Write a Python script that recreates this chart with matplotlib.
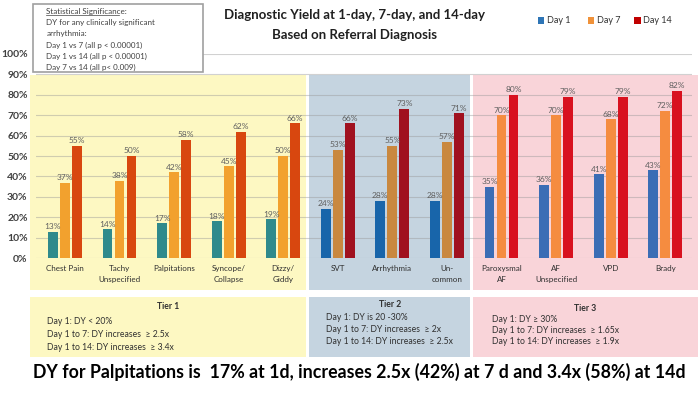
"""Diagnostic yield by referral diagnosis, grouped by tier."""

import matplotlib

matplotlib.use("Agg")
import matplotlib.pyplot as plt
import numpy as np
from matplotlib.patches import Rectangle
from matplotlib.transforms import blended_transform_factory

plt.rcParams["font.family"] = ["Lato", "DejaVu Sans"]

categories = [
    "Chest Pain", "Tachy\nUnspecified", "Palpitations", "Syncope/\nCollapse", "Dizzy/\nGiddy",
    "SVT", "Arrhythmia", "Un-\ncommon",
    "Paroxysmal\nAF", "AF\nUnspecified", "VPD", "Brady",
]
tier_of = [0, 0, 0, 0, 0, 1, 1, 1, 2, 2, 2, 2]
day1 = [13, 14, 17, 18, 19, 24, 28, 28, 35, 36, 41, 43]
day7 = [37, 38, 42, 45, 50, 53, 55, 57, 70, 70, 68, 72]
day14 = [55, 50, 58, 62, 66, 66, 73, 71, 80, 79, 79, 82]
series_names = ["Day 1", "Day 7", "Day 14"]

tier_names = ["Tier 1", "Tier 2", "Tier 3"]
tier_rules = [
    ["Day 1: DY < 20%", "Day 1 to 7: DY increases  \u2265 2.5x", "Day 1 to 14: DY increases  \u2265 3.4x"],
    ["Day 1: DY is 20 -30%", "Day 1 to 7: DY increases  \u2265 2x", "Day 1 to 14: DY increases  \u2265 2.5x"],
    ["Day 1: DY \u2265 30%", "Day 1 to 7: DY increases  \u2265 1.65x", "Day 1 to 14: DY increases  \u2265 1.9x"],
]
stats_lines = [
    "DY for any clinically significant",
    "arrhythmia:",
    "Day 1 vs 7 (all p < 0.00001)",
    "Day 1 vs 14 (all p < 0.00001)",
    "Day 7 vs 14 (all p< 0.009)",
]

# colours
panel_colors = ["#fdf8c2", "#c5d4e0", "#f9d4d9"]
bar_colors = [
    ["#2f8a8c", "#f2a12e", "#d8470f"],
    ["#1865aa", "#c9883f", "#a0111f"],
    ["#3b6db5", "#f58c40", "#d8111f"],
]
legend_colors = ["#2e75b6", "#f0923a", "#c00000"]

fig = plt.figure(figsize=(7, 3.94), dpi=100)
ax = fig.add_axes([0.0514, 0.345, 0.9372, 0.518])
ax.set_facecolor("none")

x = np.arange(len(categories))
width = 0.18
step = 0.22
for k, values in enumerate([day1, day7, day14]):
    offset = (k - 1) * step
    colors = [bar_colors[t][k] for t in tier_of]
    bars = ax.bar(x + offset, np.array(values) / 100, width, color=colors, zorder=3)
    for bar, v in zip(bars, values):
        ax.text(bar.get_x() + bar.get_width() / 2, bar.get_height() + 0.008, f"{v}%",
                ha="center", va="bottom", fontsize=6, color="#5f5f5f", zorder=4)

ax.set_xlim(-0.53, 11.49)
ax.set_ylim(0, 1)
ax.set_yticks(np.arange(0, 1.01, 0.1))
ax.set_yticklabels([f"{int(round(t * 100))}%" for t in np.arange(0, 1.01, 0.1)],
                   fontsize=7.5, fontweight="bold", color="#404040")
ax.tick_params(axis="y", length=0, pad=6)
ax.set_xticks(x)
ax.set_xticklabels(categories, fontsize=5.8, color="#303030", linespacing=1.6)
ax.tick_params(axis="x", length=0, pad=5)
ax.grid(axis="y", color="#9a9a9a", alpha=0.45, lw=0.8, zorder=1)
for side in ax.spines.values():
    side.set_visible(False)

# tier panels behind the chart, x from data, y from the figure
blend = blended_transform_factory(ax.transData, fig.transFigure)
tier_bounds = [(-0.64, 4.42), (4.47, 7.43), (7.48, 11.6)]
for t, (x0, x1) in enumerate(tier_bounds):
    fig.add_artist(Rectangle((x0, 0.264), x1 - x0, 0.546, transform=blend,
                             facecolor=panel_colors[t], edgecolor="none", zorder=-2))
    fig.add_artist(Rectangle((x0, 0.094), x1 - x0, 0.152, transform=blend,
                             facecolor=panel_colors[t], edgecolor="none", zorder=-2))

# tier descriptions
tier_title_y = [0.222, 0.226, 0.218]
tier_text_x = [0.067, 0.465, 0.703]
tier_line_y = [[0.183, 0.150, 0.117], [0.195, 0.163, 0.132], [0.190, 0.160, 0.132]]
for t, (x0, x1) in enumerate(tier_bounds):
    mid = ax.transData.transform(((x0 + x1) / 2, 0))[0] / fig.bbox.width
    fig.text(mid, tier_title_y[t], tier_names[t], ha="center", va="center",
             fontsize=6.2, fontweight="bold", color="#303030")
    for line, yy in zip(tier_rules[t], tier_line_y[t]):
        fig.text(tier_text_x[t], yy, line, ha="left", va="center", fontsize=6.2, color="#303030")

# title
fig.text(0.507, 0.962, "Diagnostic Yield at 1-day, 7-day, and 14-day", ha="center", va="center",
         fontsize=9.5, fontweight="bold", color="#202020")
fig.text(0.507, 0.912, "Based on Referral Diagnosis", ha="center", va="center",
         fontsize=9.5, fontweight="bold", color="#202020")

# legend
legend_x = [0.768, 0.840, 0.906]
for name, color, lx in zip(series_names, legend_colors, legend_x):
    fig.add_artist(Rectangle((lx, 0.940), 0.009, 0.016, transform=fig.transFigure,
                             facecolor=color, edgecolor="none"))
    fig.text(lx + 0.013, 0.948, name, ha="left", va="center", fontsize=6.5, color="#303030")

# statistical significance box
fig.add_artist(Rectangle((0.047, 0.818), 0.243, 0.172, transform=fig.transFigure,
                         facecolor="white", edgecolor="#a0a0a0", lw=1.2, zorder=5))
fig.text(0.066, 0.972, "Statistical Significance:", ha="left", va="center", fontsize=5.8,
         color="#404040", zorder=6)
fig.add_artist(plt.Line2D([0.066, 0.170], [0.962, 0.962], transform=fig.transFigure,
                          color="#404040", lw=0.5, zorder=6))
for i, line in enumerate(stats_lines):
    fig.text(0.066, 0.943 - i * 0.0285, line, ha="left", va="center", fontsize=5.8,
             color="#404040", zorder=6)

# footnote
fig.text(0.047, 0.055, "DY for Palpitations is  17% at 1d, increases 2.5x (42%) at 7 d and 3.4x (58%) at 14d",
         ha="left", va="center", fontsize=12.8, fontweight="bold", color="black")

fig.savefig("out.png", dpi=100)
